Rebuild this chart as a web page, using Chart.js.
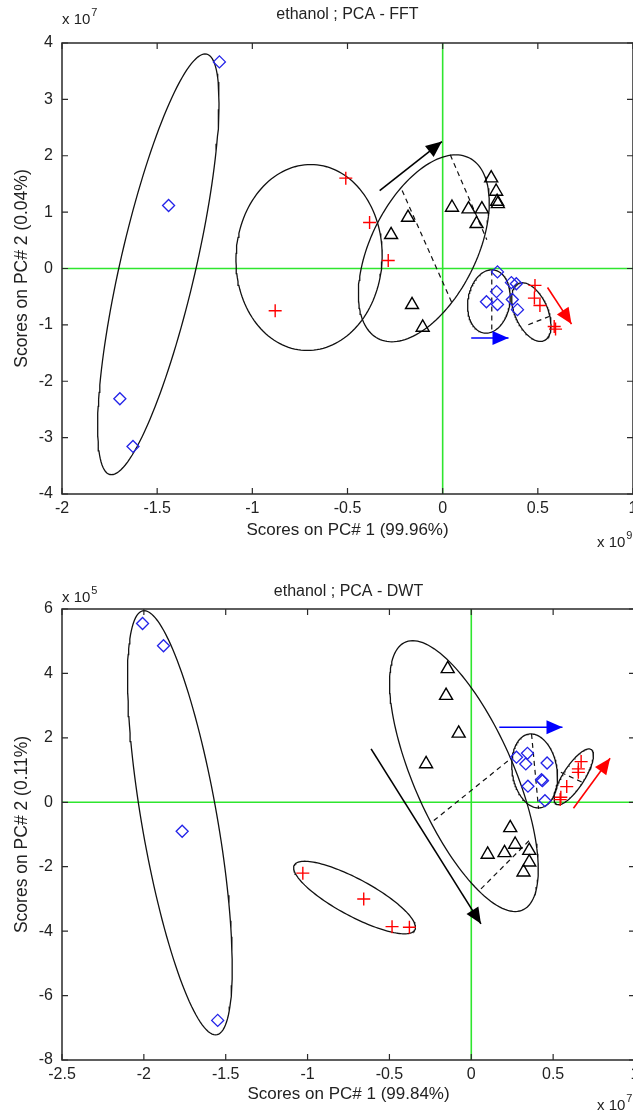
<!DOCTYPE html>
<html>
<head>
<meta charset="utf-8">
<title>ethanol ; PCA</title>
<script src="https://cdn.jsdelivr.net/npm/chart.js@4.4.1/dist/chart.umd.min.js"></script>
<style>
  html, body { margin: 0; padding: 0; background: #fff; overflow: hidden; }
  body { width: 633px; height: 1110px; position: relative; }
  .box { position: absolute; left: 0; width: 680px; }
  #box1 { top: 0; height: 560px; }
  #box2 { top: 560px; height: 550px; }
</style>
</head>
<body>
<div class="box" id="box1"><canvas id="fftChart" width="680" height="560"></canvas></div>
<div class="box" id="box2"><canvas id="dwtChart" width="680" height="550"></canvas></div>
<script>
// ---------- FFT scores (x in 1e9, y in 1e7) ----------
const fftXTicks = [-2, -1.5, -1, -0.5, 0, 0.5, 1];
const fftYTicks = [-4, -3, -2, -1, 0, 1, 2, 3, 4];

const fftBlueX = [-1.173, -1.44, -1.696, -1.627, 0.288, 0.283, 0.23, 0.288, 0.361, 0.387, 0.366, 0.393];
const fftBlueY = [3.665, 1.117, -2.31, -3.156, -0.06, -0.41, -0.59, -0.64, -0.25, -0.27, -0.55, -0.73];
const fftRedX = [-0.509, -0.384, -0.286, -0.88, 0.485, 0.482, 0.511, 0.586, 0.593];
const fftRedY = [1.603, 0.816, 0.142, -0.75, -0.30, -0.525, -0.656, -1.03, -1.075];
const fftBlackX = [0.255, 0.281, 0.286, 0.29, 0.049, 0.136, 0.206, 0.178, -0.182, -0.271, -0.161, -0.105];
const fftBlackY = [1.603, 1.366, 1.188, 1.147, 1.082, 1.053, 1.053, 0.793, 0.904, 0.598, -0.644, -1.046];

// ellipses: centre x, centre y, semi-diameter to top point (x, y), conjugate semi-diameter (x, y)
const fftEllipses = [
  [-1.494, 0.074, 0.246, 3.732, 0.203, 0],
  [-0.702, 0.195, 0.009, 1.649, 0.384, 0],
  [-0.099, 0.358, 0.168, 1.658, 0.3, 0],
  [0.243, -0.585, 0.015, 0.562, 0.111, 0],
  [0.466, -0.773, -0.047, 0.52, 0.092, 0]
];
// dashed segments: x1, y1, x2, y2
const fftDashes = [
  [-0.213, 1.383, 0.049, -0.613],
  [0.04, 2.016, 0.232, 0.509],
  [0.258, -0.035, 0.258, -1.135],
  [0.45, -0.998, 0.559, -0.851]
];
// arrows: start x, start y, tip x, tip y
const fftArrowBlack = [-0.331, 1.383, -0.004, 2.252];
const fftArrowBlue = [0.15, -1.234, 0.346, -1.234];
const fftArrowRed = [0.551, -0.337, 0.677, -0.986];

// ---------- DWT scores (x in 1e7, y in 1e5) ----------
const dwtXTicks = [-2.5, -2, -1.5, -1, -0.5, 0, 0.5, 1];
const dwtYTicks = [-8, -6, -4, -2, 0, 2, 4, 6];

const dwtBlueX = [-2.008, -1.88, -1.766, -1.549, 0.276, 0.343, 0.333, 0.463, 0.429, 0.435, 0.346, 0.45];
const dwtBlueY = [5.55, 4.86, -0.9, -6.77, 1.40, 1.52, 1.19, 1.22, 0.70, 0.67, 0.50, 0.05];
const dwtRedX = [-1.029, -0.657, -0.484, -0.378, 0.671, 0.654, 0.654, 0.583, 0.547, 0.543];
const dwtRedY = [-2.2, -3.0, -3.86, -3.88, 1.263, 1.036, 0.93, 0.487, 0.155, 0.084];
const dwtBlackX = [-0.144, -0.154, -0.077, -0.276, 0.238, 0.268, 0.1, 0.203, 0.354, 0.354, 0.319];
const dwtBlackY = [4.14, 3.31, 2.14, 1.19, -0.795, -1.31, -1.62, -1.57, -1.5, -1.86, -2.17];

const dwtEllipses = [
  [-1.78, -0.636, -0.218, 6.584, 0.234, 0],
  [-0.713, -2.957, -0.305, 1.126, 0.213, 0],
  [-0.045, 0.813, -0.313, 4.204, 0.329, 0],
  [0.387, 0.974, -0.023, 1.148, 0.138, 0],
  [0.626, 0.791, 0.093, 0.866, 0.076, 0]
];
const dwtDashes = [
  [-0.229, -0.568, 0.226, 1.294],
  [0.059, -2.69, 0.364, -1.136],
  [0.368, 2.12, 0.411, -0.205],
  [0.547, 0.93, 0.679, 0.62]
];
const dwtArrowBlack = [-0.612, 1.657, 0.059, -3.773];
const dwtArrowBlue = [0.171, 2.327, 0.557, 2.327];
const dwtArrowRed = [0.624, -0.186, 0.848, 1.365];

const FONT = "'Liberation Sans', Arial, sans-serif";
const TXT = '#222';
const GREEN = '#2ee62e';

Chart.defaults.font.family = FONT;
Chart.defaults.color = TXT;

function toPoints(xs, ys) {
  return xs.map((x, i) => ({ x: x, y: ys[i] }));
}

// outline of one ellipse, from its centre and two conjugate semi-diameters
function ellipsePoints(e) {
  const pts = [];
  for (let i = 0; i <= 144; i++) {
    const t = i / 144 * 2 * Math.PI;
    pts.push({
      x: e[0] + e[2] * Math.cos(t) + e[4] * Math.sin(t),
      y: e[1] + e[3] * Math.cos(t) + e[5] * Math.sin(t)
    });
  }
  return pts;
}

function segment(s) {
  return [{ x: s[0], y: s[1] }, { x: s[2], y: s[3] }];
}

function lineSet(data, color, width, dash) {
  return {
    type: 'scatter', data: data, showLine: true, pointRadius: 0,
    borderColor: color, borderWidth: width, borderDash: dash || [], fill: false, tension: 0
  };
}

function drawPower(ctx, x, y, base, exp) {
  ctx.save();
  ctx.fillStyle = TXT;
  ctx.textAlign = 'left';
  ctx.textBaseline = 'alphabetic';
  ctx.font = '15px ' + FONT;
  ctx.fillText(base, x, y);
  const w = ctx.measureText(base).width;
  ctx.font = '11px ' + FONT;
  ctx.fillText(exp, x + w + 1, y - 8);
  ctx.restore();
}

// frame, inward ticks, arrowheads and the MATLAB style texts
function makeDecor(cfg) {
  return {
    id: 'decor',
    afterDatasetsDraw(chart) {
      const ctx = chart.ctx;
      const sx = chart.scales.x, sy = chart.scales.y;
      cfg.arrows.forEach(a => {
        const x1 = sx.getPixelForValue(a.d[0]), y1 = sy.getPixelForValue(a.d[1]);
        const x2 = sx.getPixelForValue(a.d[2]), y2 = sy.getPixelForValue(a.d[3]);
        const ang = Math.atan2(y2 - y1, x2 - x1);
        const L = 16, W = 7;
        ctx.save();
        ctx.fillStyle = a.color;
        ctx.beginPath();
        ctx.moveTo(x2, y2);
        ctx.lineTo(x2 - L * Math.cos(ang) + W * Math.sin(ang), y2 - L * Math.sin(ang) - W * Math.cos(ang));
        ctx.lineTo(x2 - L * Math.cos(ang) - W * Math.sin(ang), y2 - L * Math.sin(ang) + W * Math.cos(ang));
        ctx.closePath();
        ctx.fill();
        ctx.restore();
      });
    },
    afterDraw(chart) {
      const ctx = chart.ctx;
      const a = chart.chartArea;
      const sx = chart.scales.x, sy = chart.scales.y;
      ctx.save();
      ctx.strokeStyle = '#2a2a2a';
      ctx.lineWidth = 1.5;
      ctx.strokeRect(a.left, a.top, a.right - a.left, a.bottom - a.top);
      ctx.lineWidth = 1.2;
      ctx.beginPath();
      sx.ticks.forEach(t => {
        const p = sx.getPixelForValue(t.value);
        ctx.moveTo(p, a.bottom); ctx.lineTo(p, a.bottom - 6);
        ctx.moveTo(p, a.top); ctx.lineTo(p, a.top + 6);
      });
      sy.ticks.forEach(t => {
        const p = sy.getPixelForValue(t.value);
        ctx.moveTo(a.left, p); ctx.lineTo(a.left + 6, p);
        ctx.moveTo(a.right, p); ctx.lineTo(a.right - 6, p);
      });
      ctx.stroke();

      ctx.fillStyle = TXT;
      ctx.font = '16px ' + FONT;
      ctx.textAlign = 'center';
      ctx.textBaseline = 'middle';
      const cx = (a.left + a.right) / 2;
      ctx.fillText(cfg.title, cx, cfg.titleY);
      ctx.font = '17px ' + FONT;
      ctx.fillText(cfg.xTitle, cx, cfg.xTitleY);
      ctx.save();
      ctx.translate(22, (a.top + a.bottom) / 2);
      ctx.rotate(-Math.PI / 2);
      ctx.font = '17.5px ' + FONT;
      ctx.fillText(cfg.yTitle, 0, 0);
      ctx.restore();
      ctx.restore();

      drawPower(ctx, a.left, cfg.yPowY, 'x 10', cfg.yPow);
      drawPower(ctx, 597, cfg.xPowY, 'x 10', cfg.xPow);
    }
  };
}

function tickLabel(v) {
  return String(Math.round(v * 100) / 100);
}

function createChart(id, d, cfg) {
  const ctx = document.getElementById(id).getContext('2d');
  const W = ctx.canvas.width, H = ctx.canvas.height;
  const datasets = [
    {
      type: 'scatter', data: toPoints(d.blackX, d.blackY), pointStyle: 'triangle', pointRadius: 7.5,
      borderColor: '#000', backgroundColor: 'rgba(0,0,0,0)', borderWidth: 1.4
    },
    {
      type: 'scatter', data: toPoints(d.redX, d.redY), pointStyle: 'cross', pointRadius: 6.5,
      borderColor: '#ff0000', backgroundColor: '#ff0000', borderWidth: 1.4
    },
    {
      type: 'scatter', data: toPoints(d.blueX, d.blueY), pointStyle: 'rectRot', pointRadius: 6,
      borderColor: '#2323e8', backgroundColor: 'rgba(0,0,0,0)', borderWidth: 1.3
    }
  ];
  d.ellipses.forEach(e => datasets.push(lineSet(ellipsePoints(e), '#111', 1.3)));
  d.dashes.forEach(s => datasets.push(lineSet(segment(s), '#111', 1.2, [5, 4])));
  datasets.push(lineSet(segment(d.arrowBlack), '#000', 1.6));
  datasets.push(lineSet(segment(d.arrowBlue), '#0000ff', 1.6));
  datasets.push(lineSet(segment(d.arrowRed), '#ff0000', 1.6));
  // zero lines
  datasets.push(lineSet([{ x: d.xTicks[0], y: 0 }, { x: d.xTicks[d.xTicks.length - 1], y: 0 }], GREEN, 1.6));
  datasets.push(lineSet([{ x: 0, y: d.yTicks[0] }, { x: 0, y: d.yTicks[d.yTicks.length - 1] }], GREEN, 1.6));

  cfg.arrows = [
    { d: d.arrowBlack, color: '#000' },
    { d: d.arrowBlue, color: '#0000ff' },
    { d: d.arrowRed, color: '#ff0000' }
  ];

  return new Chart(ctx, {
    type: 'scatter',
    data: { datasets: datasets },
    options: {
      responsive: false,
      animation: false,
      devicePixelRatio: 1,
      layout: { padding: { left: 0, right: W - cfg.right, top: cfg.top, bottom: 0 } },
      plugins: { legend: { display: false }, tooltip: { enabled: false } },
      scales: {
        x: {
          type: 'linear',
          min: d.xTicks[0], max: d.xTicks[d.xTicks.length - 1],
          afterBuildTicks: s => { s.ticks = d.xTicks.map(v => ({ value: v })); },
          ticks: { padding: 5, font: { size: 16 }, color: TXT, maxRotation: 0, autoSkip: false, callback: tickLabel },
          grid: { display: false, drawTicks: false },
          border: { display: false },
          afterFit: s => { s.height = H - cfg.bottom; }
        },
        y: {
          type: 'linear',
          min: d.yTicks[0], max: d.yTicks[d.yTicks.length - 1],
          afterBuildTicks: s => { s.ticks = d.yTicks.map(v => ({ value: v })); },
          ticks: { padding: 9, font: { size: 16 }, color: TXT, autoSkip: false, callback: tickLabel },
          grid: { display: false, drawTicks: false },
          border: { display: false },
          afterFit: s => { s.width = cfg.left; }
        }
      }
    },
    plugins: [makeDecor(cfg)]
  });
}

window.onload = function() {
  createChart('fftChart', {
    xTicks: fftXTicks, yTicks: fftYTicks,
    blueX: fftBlueX, blueY: fftBlueY, redX: fftRedX, redY: fftRedY, blackX: fftBlackX, blackY: fftBlackY,
    ellipses: fftEllipses, dashes: fftDashes,
    arrowBlack: fftArrowBlack, arrowBlue: fftArrowBlue, arrowRed: fftArrowRed
  }, {
    left: 62, right: 633, top: 43, bottom: 494,
    title: 'ethanol ; PCA - FFT', titleY: 15,
    xTitle: 'Scores on PC# 1 (99.96%)', xTitleY: 530,
    yTitle: 'Scores on PC# 2 (0.04%)',
    yPow: '7', yPowY: 24, xPow: '9', xPowY: 547
  });

  createChart('dwtChart', {
    xTicks: dwtXTicks, yTicks: dwtYTicks,
    blueX: dwtBlueX, blueY: dwtBlueY, redX: dwtRedX, redY: dwtRedY, blackX: dwtBlackX, blackY: dwtBlackY,
    ellipses: dwtEllipses, dashes: dwtDashes,
    arrowBlack: dwtArrowBlack, arrowBlue: dwtArrowBlue, arrowRed: dwtArrowRed
  }, {
    left: 62, right: 635, top: 49, bottom: 500,
    title: 'ethanol ; PCA - DWT', titleY: 32,
    xTitle: 'Scores on PC# 1 (99.84%)', xTitleY: 534,
    yTitle: 'Scores on PC# 2 (0.11%)',
    yPow: '5', yPowY: 42, xPow: '7', xPowY: 550
  });
};
</script>
</body>
</html>
